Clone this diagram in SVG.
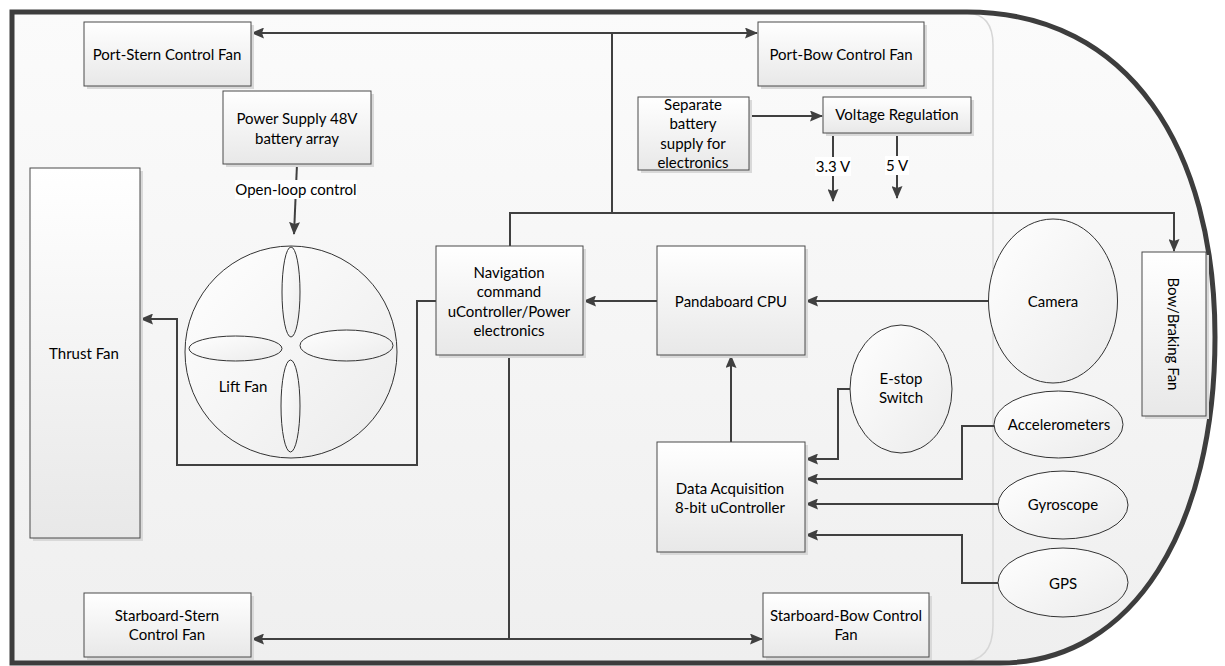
<svg xmlns="http://www.w3.org/2000/svg" width="1225" height="666" viewBox="0 0 1225 666">
<style>
.box{fill:url(#gBox);stroke:#4a4a4a;stroke-width:1}
.shd{fill:#d9d9d9}
.ell{fill:url(#gEll);stroke:#333;stroke-width:1}
.t{font-family:Lato,"Liberation Sans",sans-serif;font-size:15px;fill:#000;text-anchor:middle;dominant-baseline:central}
.c{fill:none;stroke:#404040;stroke-width:2}
.a{marker-end:url(#arr)}
</style>
<defs>
<linearGradient id="gBox" x1="0" y1="0" x2="0" y2="1"><stop offset="0" stop-color="#ffffff"/><stop offset="1" stop-color="#e8e8e8"/></linearGradient>
<linearGradient id="gEll" x1="0" y1="0" x2="1" y2="1"><stop offset="0" stop-color="#ffffff"/><stop offset="1" stop-color="#ebebeb"/></linearGradient>
<linearGradient id="gHull" x1="0" y1="0" x2="0" y2="1"><stop offset="0" stop-color="#fbfbfb"/><stop offset="1" stop-color="#efefef"/></linearGradient>
<marker id="arr" markerUnits="userSpaceOnUse" markerWidth="13" markerHeight="11" refX="12" refY="5.5" orient="auto"><path d="M0,0 L13,5.5 L0,11 L2,5.5 z" fill="#404040"/></marker>
</defs>
<rect width="1225" height="666" fill="#ffffff"/>
<g id="hull">
<path d="M12,12 H967 C1130,12 1215,150 1215,337 C1215,525 1135,663 1000,663 H12 Z" fill="url(#gHull)" stroke="none"/>
<path d="M967,13 Q993,14 993,45 V625 Q993,662 960,662" fill="none" stroke="#d6d6d6" stroke-width="1.5"/>
<path d="M12,12 H967 C1130,12 1215,150 1215,337 C1215,525 1135,663 1000,663 H12 Z" fill="none" stroke="#3d3d3d" stroke-width="5"/>
</g>
<g id="connectors">
<path class="c a" d="M612,33 H252"/>
<path class="c a" d="M612,33 H757"/>
<path class="c" d="M612,33 V213"/>
<path class="c a" d="M510,246 V213 H1174 V251"/>
<path class="c a" d="M509,355 V639 H252"/>
<path class="c a" d="M509,639 H762"/>
<path class="c a" d="M436,301 H417 V465 H177 V319 H141"/>
<path class="c a" d="M297,164 L294,234"/>
<path class="c a" d="M749,116 H822"/>
<path class="c a" d="M833,133 V201"/>
<path class="c a" d="M897,133 V198"/>
<path class="c a" d="M657,301 H584"/>
<path class="c a" d="M989,301 H806"/>
<path class="c a" d="M731,442 V356"/>
<path class="c a" d="M850,389 H838 V459 H806"/>
<path class="c a" d="M994,426 H962 V479 H806"/>
<path class="c a" d="M998,504 H806"/>
<path class="c a" d="M998,583 H962 V535 H806"/>
<rect x="235" y="180" width="122" height="19" fill="#ffffff"/>
<text class="t" x="296" y="189">Open-loop control</text>
<rect x="815" y="157" width="36" height="19" fill="#ffffff"/>
<text class="t" x="833" y="166">3.3 V</text>
<rect x="885" y="156" width="24" height="19" fill="#ffffff"/>
<text class="t" x="897" y="165">5 V</text>
</g>
<g id="port-stern">
<rect class="shd" x="87" y="25" width="167" height="64"/>
<rect class="box" x="84" y="22" width="167" height="64"/>
<text class="t" x="167" y="54">Port-Stern Control Fan</text>
</g>
<g id="port-bow">
<rect class="shd" x="761" y="25" width="166" height="64"/>
<rect class="box" x="758" y="22" width="166" height="64"/>
<text class="t" x="841" y="54">Port-Bow Control Fan</text>
</g>
<g id="power-supply">
<rect class="shd" x="226" y="94" width="148" height="73"/>
<rect class="box" x="223" y="91" width="148" height="73"/>
<text class="t" x="297" y="118">Power Supply 48V</text>
<text class="t" x="297" y="138">battery array</text>
</g>
<g id="separate-battery">
<rect class="shd" x="641" y="100" width="111" height="73"/>
<rect class="box" x="638" y="97" width="111" height="73"/>
<text class="t" x="693" y="104">Separate</text>
<text class="t" x="693" y="123">battery</text>
<text class="t" x="693" y="143">supply for</text>
<text class="t" x="693" y="162">electronics</text>
</g>
<g id="voltage-regulation">
<rect class="shd" x="826" y="100" width="148" height="36"/>
<rect class="box" x="823" y="97" width="148" height="36"/>
<text class="t" x="897" y="114">Voltage Regulation</text>
</g>
<g id="thrust-fan">
<rect class="shd" x="33" y="171" width="110" height="370"/>
<rect class="box" x="30" y="168" width="110" height="370"/>
<text class="t" x="84" y="353">Thrust Fan</text>
</g>
<g id="lift-fan">
<ellipse class="ell" cx="291" cy="352" rx="106" ry="106"/>
<ellipse class="ell" cx="291" cy="292" rx="9" ry="45"/>
<ellipse class="ell" cx="235.5" cy="348.5" rx="46.5" ry="12.5"/>
<ellipse class="ell" cx="346.5" cy="345.5" rx="46.5" ry="15.5"/>
<ellipse class="ell" cx="290.5" cy="406" rx="9.5" ry="46"/>
<text class="t" x="243" y="386">Lift Fan</text>
</g>
<g id="navigation">
<rect class="shd" x="439" y="249" width="147" height="109"/>
<rect class="box" x="436" y="246" width="147" height="109"/>
<text class="t" x="509" y="272">Navigation</text>
<text class="t" x="509" y="291">command</text>
<text class="t" x="509" y="311">uController/Power</text>
<text class="t" x="509" y="330">electronics</text>
</g>
<g id="pandaboard">
<rect class="shd" x="660" y="249" width="148" height="109"/>
<rect class="box" x="657" y="246" width="148" height="109"/>
<text class="t" x="731" y="301">Pandaboard CPU</text>
</g>
<g id="data-acquisition">
<rect class="shd" x="660" y="445" width="148" height="110"/>
<rect class="box" x="657" y="442" width="148" height="110"/>
<text class="t" x="730" y="488">Data Acquisition</text>
<text class="t" x="730" y="507">8-bit uController</text>
</g>
<g id="starboard-stern">
<rect class="shd" x="87" y="596" width="167" height="64"/>
<rect class="box" x="84" y="593" width="167" height="64"/>
<text class="t" x="167" y="615">Starboard-Stern</text>
<text class="t" x="167" y="634">Control Fan</text>
</g>
<g id="starboard-bow">
<rect class="shd" x="766" y="596" width="166" height="64"/>
<rect class="box" x="763" y="593" width="166" height="64"/>
<text class="t" x="846" y="615">Starboard-Bow Control</text>
<text class="t" x="846" y="634">Fan</text>
</g>
<g id="bow-braking">
<rect class="shd" x="1145" y="255" width="64" height="164"/>
<rect class="box" x="1142" y="252" width="64" height="164"/>
<text class="t" x="1174" y="334" transform="rotate(90 1174 334)">Bow/Braking Fan</text>
</g>
<g id="camera">
<ellipse class="ell" cx="1053" cy="301" rx="64.5" ry="82"/>
<text class="t" x="1053" y="301">Camera</text>
</g>
<g id="e-stop">
<ellipse class="ell" cx="901" cy="389" rx="51" ry="64"/>
<text class="t" x="901" y="378">E-stop</text>
<text class="t" x="901" y="397">Switch</text>
</g>
<g id="accelerometers">
<ellipse class="ell" cx="1058.5" cy="424.5" rx="64.5" ry="33.5"/>
<text class="t" x="1059" y="424">Accelerometers</text>
</g>
<g id="gyroscope">
<ellipse class="ell" cx="1063" cy="505" rx="65" ry="34"/>
<text class="t" x="1063" y="504">Gyroscope</text>
</g>
<g id="gps">
<ellipse class="ell" cx="1063" cy="582.5" rx="65" ry="34.5"/>
<text class="t" x="1063" y="583">GPS</text>
</g>
</svg>
